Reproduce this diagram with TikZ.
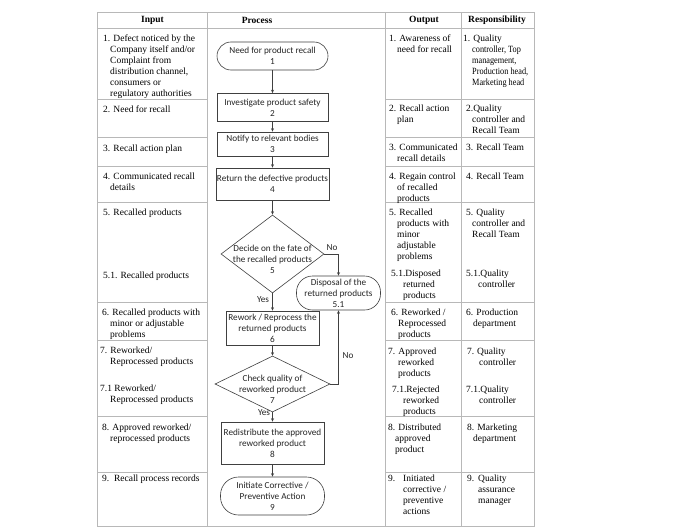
\documentclass[tikz,border=0pt]{standalone}
\usepackage{fontspec}
\usepackage{graphicx}
\setmainfont{Liberation Serif}
\newfontfamily\calfont{Carlito}
\usetikzlibrary{arrows.meta,shapes.geometric}
\newcommand{\tabfont}{\fontsize{9.5}{11}\selectfont}
\newcommand{\flowfont}{\calfont\fontsize{9.2}{11}\selectfont}
\newcommand{\ind}[1]{\hspace*{#1pt}}
\newcommand{\cnd}[1]{\scalebox{0.87}[1]{#1}}
\begin{document}
\begin{tikzpicture}[x=1pt,y=-1pt,
  grid/.style={draw=black!28, line width=0.6pt},
  cell/.style={anchor=base west, align=left, inner sep=0pt, font=\tabfont},
  head/.style={font=\tabfont\bfseries, inner sep=0pt},
  proc/.style={draw=black!75, line width=0.6pt, font=\flowfont, text=black!85, align=center, inner sep=1pt},
  boxnode/.style={proc, rectangle},
  term/.style={proc, rectangle},
  decision/.style={draw=black!75, line width=0.6pt, diamond, inner sep=0pt},
  flowtext/.style={font=\flowfont, text=black!85, align=center, inner sep=0pt},
  conn/.style={draw=black!75, line width=0.6pt, -{Stealth[length=3.5pt,width=3pt]}},
  lab/.style={font=\flowfont, text=black!85, inner sep=0pt}
]
\useasboundingbox (0,0) rectangle (680,530);
\fill[white] (0,0) rectangle (680,530);
% table grid
\draw[grid] (97,12) rectangle (534,526);
\draw[grid] (207,12) -- (207,526) (385,12) -- (385,526) (461,12) -- (461,526);
\draw[grid] (97,28) -- (534,28);
\foreach \yy in {99,137,166,202,302,340,416,472} {
  \draw[grid] (97,\yy) -- (207,\yy) (385,\yy) -- (534,\yy);
}
% headers
\node[head] (hin) at (152.5,20) {Input};
\node[head] (hpr) at (257,20) {Process};
\node[head] (hout) at (424,20) {Output};
\node[head] (hres) at (497,20) {Responsibility};
% input column (anchor = baseline of last line)
\node[cell] (i1) at (103,96) {1. Defect noticed by the\\\ind{7}Company itself and/or\\\ind{7}Complaint from\\\ind{7}distribution channel,\\\ind{7}consumers or\\\ind{7}regulatory authorities};
\node[cell] (i2) at (103,112) {2. Need for recall};
\node[cell] (i3) at (103,151) {3. Recall action plan};
\node[cell] (i4) at (103,190) {4. Communicated recall\\\ind{7}details};
\node[cell] (i5) at (103,215) {5. Recalled products};
\node[cell] (i51) at (103,278) {5.1. Recalled products};
\node[cell] (i6) at (102,337) {6. Recalled products with\\\ind{8}minor or adjustable\\\ind{8}problems};
\node[cell] (i7) at (100,364) {7. Reworked/\\\ind{10}Reprocessed products};
\node[cell] (i71) at (100,402) {7.1 Reworked/\\\ind{10}Reprocessed products};
\node[cell] (i8) at (102,441) {8. Approved reworked/\\\ind{8}reprocessed products};
\node[cell] (i9) at (102,481) {9.\ \ Recall process records};
% output column
\node[cell] (o1) at (389,52) {1. Awareness of\\\ind{8}need for recall};
\node[cell] (o2) at (389,122) {2. Recall action\\\ind{8}plan};
\node[cell] (o3) at (389,161) {3. Communicated\\\ind{8}recall details};
\node[cell] (o4) at (389,201) {4. Regain control\\\ind{8}of recalled\\\ind{8}products};
\node[cell] (o5) at (389,259) {5. Recalled\\\ind{8}products with\\\ind{8}minor\\\ind{8}adjustable\\\ind{8}problems};
\node[cell] (o51) at (391,298) {5.1.Disposed\\\ind{12}returned\\\ind{12}products};
\node[cell] (o6) at (391,337) {6. Reworked /\\\ind{7}Reprocessed\\\ind{7}products};
\node[cell] (o7) at (388,376) {7. Approved\\\ind{10}reworked\\\ind{10}products};
\node[cell] (o71) at (392,414) {7.1.Rejected\\\ind{11}reworked\\\ind{11}products};
\node[cell] (o8) at (388,452) {8. Distributed\\\ind{7}approved\\\ind{7}product};
\node[cell] (o9) at (388,514) {\makebox[15pt][l]{9.}Initiated\\\ind{15}corrective /\\\ind{15}preventive\\\ind{15}actions};
% responsibility column
\node[cell] (r1) at (463,85) {1. Quality\\\ind{9}\cnd{controller, Top}\\\ind{9}\cnd{management,}\\\ind{9}\cnd{Production head,}\\\ind{9}\cnd{Marketing head}};
\node[cell] (r2) at (466,133) {2.Quality\\\ind{6}controller and\\\ind{6}Recall Team};
\node[cell] (r3) at (466,150) {3. Recall Team};
\node[cell] (r4) at (466,179) {4. Recall Team};
\node[cell] (r5) at (466,237) {5. Quality\\\ind{6}controller and\\\ind{6}Recall Team};
\node[cell] (r51) at (466,287) {5.1.Quality\\\ind{12}controller};
\node[cell] (r6) at (466,326) {6. Production\\\ind{7}department};
\node[cell] (r7) at (467,365) {\makebox[10pt][l]{7.}Quality\\\ind{12}controller};
\node[cell] (r71) at (466,403) {7.1.Quality\\\ind{13}controller};
\node[cell] (r8) at (467,441) {8. Marketing\\\ind{6}department};
\node[cell] (r9) at (467,503) {\makebox[11pt][l]{9.}Quality\\\ind{11}assurance\\\ind{11}manager};
% flowchart
\node[term, minimum width=111pt, minimum height=28pt, rounded corners=14pt] (n1) at (272.5,56) {Need for product recall\\1};
\node[boxnode, minimum width=111pt, minimum height=28pt] (n2) at (272.5,107.5) {Investigate product safety\\2};
\node[boxnode, minimum width=111pt, minimum height=24pt] (n3) at (272.5,144) {Notify to relevant bodies\\3};
\node[boxnode, minimum width=111pt, minimum height=32pt] (n4) at (272.5,184) {Return the defective products\\4};
\node[decision, minimum width=103pt, minimum height=78pt] (d5) at (272.5,254) {};
\node[flowtext] (t5) at (272.5,259) {Decide on the fate of\\the recalled products\\5};
\node[term, minimum width=84pt, minimum height=34pt, rounded corners=16pt] (n51) at (338.5,293) {Disposal of the\\returned products\\5.1};
\node[boxnode, minimum width=93pt, minimum height=34pt] (n6) at (272.5,328) {Rework / Reprocess the\\returned products\\6};
\node[decision, minimum width=115pt, minimum height=56pt] (d7) at (272.5,384) {};
\node[flowtext] (t7) at (272.5,389.5) {Check quality of\\reworked product\\7};
\node[boxnode, minimum width=103pt, minimum height=42pt] (n8) at (272.5,443) {Redistribute the approved\\reworked product\\8};
\node[term, minimum width=104pt, minimum height=38pt, rounded corners=18pt] (n9) at (272.5,496) {Initiate Corrective /\\Preventive Action\\9};
% connectors
\draw[conn] (n1) -- (n2);
\draw[conn] (n2) -- (n3);
\draw[conn] (n3) -- (n4);
\draw[conn] (n4) -- (d5.north);
\draw[conn] (d5.south) -- (n6);
\draw[conn] (n6) -- (d7.north);
\draw[conn] (d7.south) -- (n8);
\draw[conn] (n8) -- (n9);
\draw[conn] (d5.east) -| (n51.north);
\draw[conn] (d7.east) -| (n51.south);
% labels
\node[lab] (no1) at (332,248) {No};
\node[lab] (yes1) at (263,300) {Yes};
\node[lab] (no2) at (348,356) {No};
\node[lab] (yes2) at (264,413) {Yes};
\end{tikzpicture}
\end{document}
